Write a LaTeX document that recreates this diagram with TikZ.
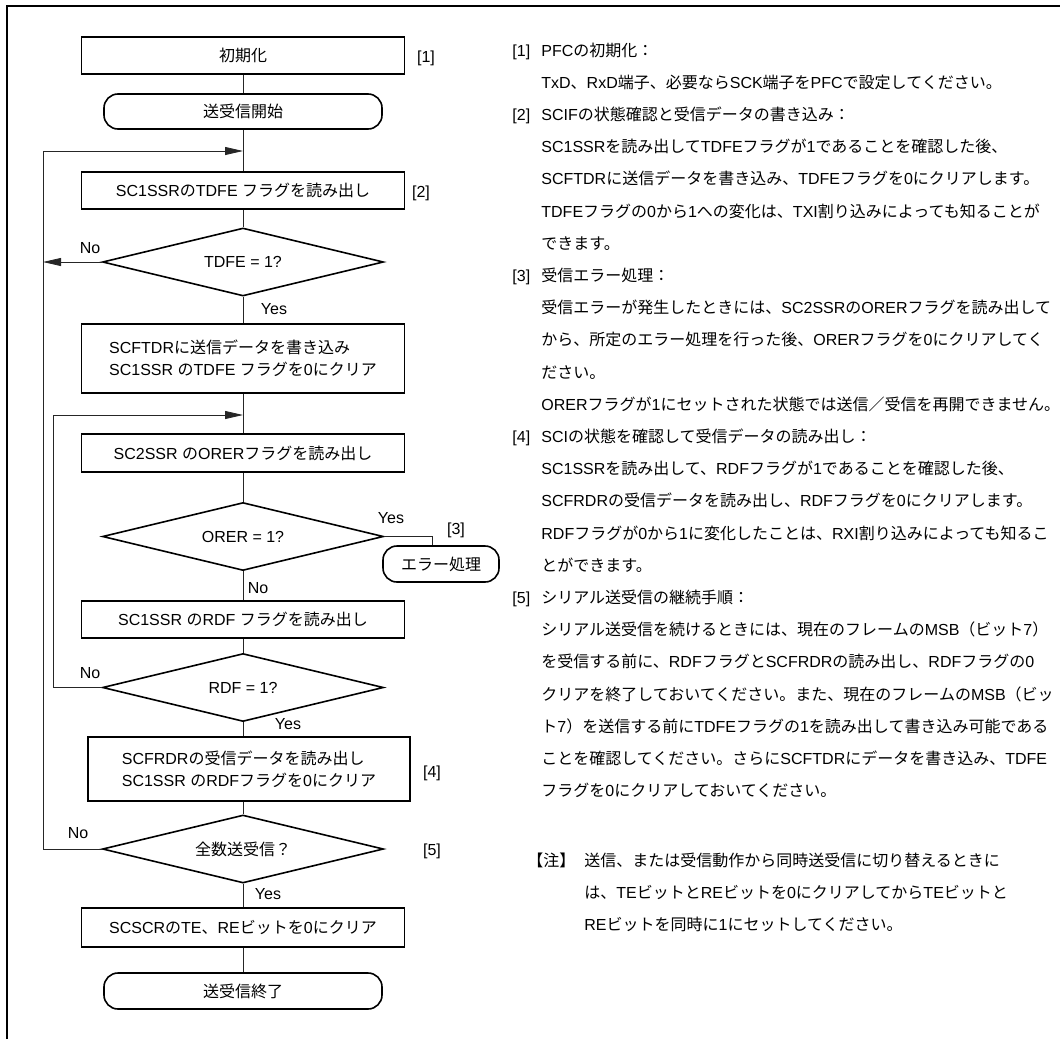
\documentclass[tikz,border=0pt]{standalone}
\usepackage{fontspec}
\setmainfont{Liberation Sans}
\newfontfamily\jpfont{Noto Sans CJK JP}
\newfontfamily\lafont{Liberation Sans}
\usetikzlibrary{arrows.meta,shapes.geometric}

% Japanese characters in Noto, the rest in Liberation Sans
\XeTeXinterchartokenstate=1
\newXeTeXintercharclass\jpclass
\makeatletter
\def\setjprange#1#2{%
  \count@=#1\relax
  \loop
    \XeTeXcharclass\count@=\jpclass
  \ifnum\count@<#2\relax
    \advance\count@ by 1
  \repeat}
\makeatother
\setjprange{"3000}{"30FF}
\setjprange{"4E00}{"9FFF}
\setjprange{"FF00}{"FFEF}
\XeTeXinterchartoks 0 \jpclass = {\jpfont}
\XeTeXinterchartoks 4095 \jpclass = {\jpfont}
\XeTeXinterchartoks \jpclass 0 = {\lafont}
\XeTeXinterchartoks 4095 0 = {\lafont}

\tikzset{
    flow font/.style={font=\fontsize{8pt}{11pt}\selectfont},
    flow box/.style={
        draw,
        line width=0.8pt,
        minimum width=161.5pt,
        minimum height=18.5pt,
        inner sep=2pt,
        align=center,
        flow font
    },
    flow term/.style={
        draw,
        line width=0.8pt,
        rounded corners=7pt,
        minimum width=139pt,
        minimum height=17.5pt,
        inner sep=2pt,
        flow font
    },
    flow dec/.style={
        draw,
        diamond,
        shape aspect=4,
        line width=0.8pt,
        minimum width=140.5pt,
        minimum height=34pt,
        inner sep=0pt,
        flow font
    },
    flow line/.style={line width=0.4pt, black!85},
    flow arrow/.style={flow line, -{Triangle[length=9pt,width=4pt]}},
    flow tag/.style={inner sep=0pt, flow font},
    note line/.style={anchor=base west, inner sep=0pt, flow font}
}

\begin{document}
\begin{tikzpicture}[x=0.5pt,y=-0.5pt]
    \useasboundingbox (0,0) rectangle (1060,1039);
    \draw[line width=1pt] (7,1039) -- (7,6) -- (1060,6);

    % flowchart
    \node[flow box] (init) at (243,55.5) {初期化};
    \node[flow tag] (tag1) at (426,58) {[1]};
    \node[flow term] (start) at (243,111.5) {送受信開始};
    \coordinate (join1) at (243,151);
    \node[flow box] (rdtdfe) at (243,190.5) {SC1SSRのTDFE フラグを読み出し};
    \node[flow tag] (tag2) at (421,193) {[2]};
    \node[flow dec] (tdfe) at (243,262) {TDFE = 1?};
    \node[flow box, minimum height=34.5pt, align=left] (wrtdr) at (243,358.5)
        {SCFTDRに送信データを書き込み\\SC1SSR のTDFE フラグを0にクリア};
    \coordinate (join2) at (243,415);
    \node[flow box, minimum height=19pt] (rdorer) at (243,453) {SC2SSR のORERフラグを読み出し};
    \node[flow dec] (orer) at (243,536.5) {ORER = 1?};
    \node[flow term, minimum width=58pt, minimum height=18pt] (err) at (441,564) {エラー処理};
    \node[flow tag] (tag3) at (456,530) {[3]};
    \node[flow box] (rdrdf) at (243,619.5) {SC1SSR のRDF フラグを読み出し};
    \node[flow dec] (rdf) at (243,687.5) {RDF = 1?};
    \node[flow box, minimum width=161pt, minimum height=32pt, align=left] (rdrx) at (249,769)
        {SCFRDRの受信データを読み出し\\SC1SSR のRDFフラグを0にクリア};
    \node[flow tag] (tag4) at (432,773) {[4]};
    \node[flow dec] (alldone) at (243,849) {全数送受信？};
    \node[flow tag] (tag5) at (432,851) {[5]};
    \node[flow box, minimum height=19.5pt] (clrte) at (243,927.5) {SCSCRのTE、REビットを0にクリア};
    \node[flow term, minimum height=18pt] (fin) at (243,991) {送受信終了};

    \node[flow tag] (no1) at (90,248) {No};
    \node[flow tag] (yes1) at (274,309) {Yes};
    \node[flow tag] (yes2) at (391,518) {Yes};
    \node[flow tag] (no2) at (258,588) {No};
    \node[flow tag] (no3) at (90,673) {No};
    \node[flow tag] (yes3) at (288,724) {Yes};
    \node[flow tag] (no4) at (78,833) {No};
    \node[flow tag] (yes4) at (268,894) {Yes};

    \coordinate (outer) at (43,151);
    \coordinate (outerhit) at (43,262);
    \coordinate (inner) at (53,415);

    \draw[flow line] (init) -- (start);
    \draw[flow line] (start) -- (rdtdfe);
    \draw[flow line] (rdtdfe) -- (tdfe);
    \draw[flow arrow] (tdfe.west) -- (outerhit);
    \draw[flow line] (tdfe) -- (wrtdr);
    \draw[flow line] (wrtdr) -- (rdorer);
    \draw[flow line] (rdorer) -- (orer);
    \draw[flow line] (orer.east) -| ([xshift=-4.5pt]err.north);
    \draw[flow line] (orer) -- (rdrdf);
    \draw[flow line] (rdrdf) -- (rdf);
    \draw[flow arrow] (rdf.west) -| (inner) -- (join2);
    \draw[flow line] (rdf.south) -- (rdf.south |- rdrx.north);
    \draw[flow line] (alldone.north |- rdrx.south) -- (alldone.north);
    \draw[flow arrow] (alldone.west) -| (outer) -- (join1);
    \draw[flow line] (alldone) -- (clrte);
    \draw[flow line] (clrte) -- (fin);

    % notes on the right
    \foreach \k/\lab in {0/1,2/2,7/3,12/4,17/5}
        \node[note line] (tagn\lab) at (512,{56+32.2*\k}) {[\lab]};

    \foreach \txt [count=\k from 0] in {
        PFCの初期化：,
        TxD、RxD端子、必要ならSCK端子をPFCで設定してください。,
        SCIFの状態確認と受信データの書き込み：,
        SC1SSRを読み出してTDFEフラグが1であることを確認した後、,
        SCFTDRに送信データを書き込み、TDFEフラグを0にクリアします。,
        TDFEフラグの0から1への変化は、TXI割り込みによっても知ることが,
        できます。,
        受信エラー処理：,
        受信エラーが発生したときには、SC2SSRのORERフラグを読み出して,
        から、所定のエラー処理を行った後、ORERフラグを0にクリアしてく,
        ださい。,
        ORERフラグが1にセットされた状態では送信／受信を再開できません。,
        SCIの状態を確認して受信データの読み出し：,
        SC1SSRを読み出して、RDFフラグが1であることを確認した後、,
        SCFRDRの受信データを読み出し、RDFフラグを0にクリアします。,
        RDFフラグが0から1に変化したことは、RXI割り込みによっても知るこ,
        とができます。,
        シリアル送受信の継続手順：,
        シリアル送受信を続けるときには、現在のフレームのMSB（ビット7）,
        を受信する前に、RDFフラグとSCFRDRの読み出し、RDFフラグの0,
        クリアを終了しておいてください。また、現在のフレームのMSB（ビッ,
        ト7）を送信する前にTDFEフラグの1を読み出して書き込み可能である,
        ことを確認してください。さらにSCFTDRにデータを書き込み、TDFE,
        フラグを0にクリアしておいてください。}
        \node[note line] (line\k) at (541,{56+32.2*\k}) {\txt};

    \node[note line] (notetag) at (527,866) {【注】};
    \node[note line] (note1) at (584,866) {送信、または受信動作から同時送受信に切り替えるときに};
    \node[note line] (note2) at (584,898) {は、TEビットとREビットを0にクリアしてからTEビットと};
    \node[note line] (note3) at (584,930) {REビットを同時に1にセットしてください。};
\end{tikzpicture}
\end{document}
